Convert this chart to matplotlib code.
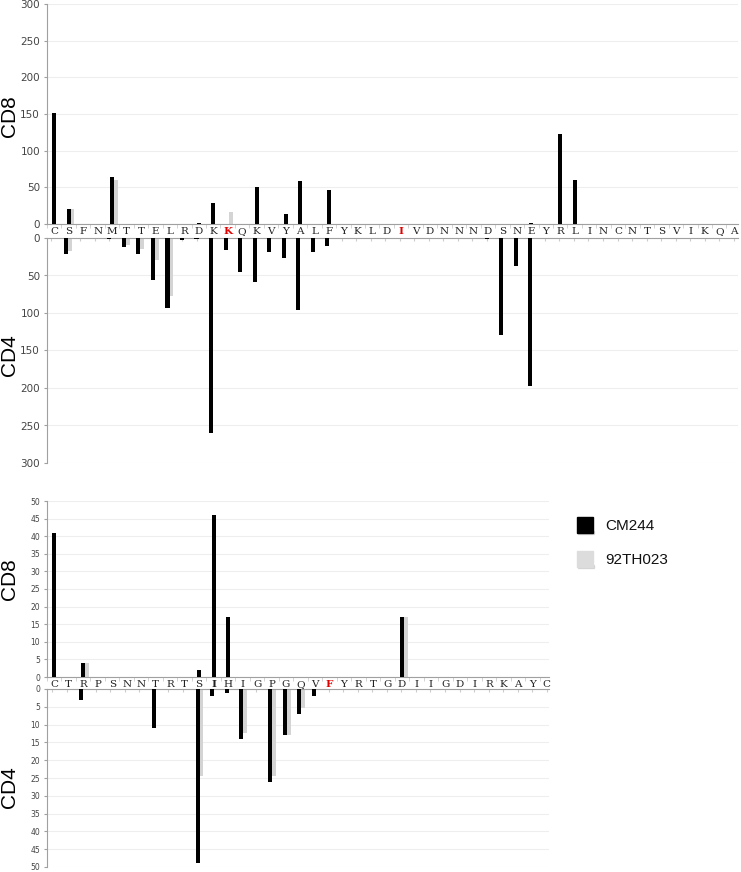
import matplotlib
matplotlib.use("Agg")
import matplotlib.pyplot as plt
from matplotlib.patches import Rectangle
import numpy as np

# ---------------- data ----------------
top_letters = list("CSFNMTTELRDKKQKVYALFYKLDIVDNNNDSNEYRLINCNTSVIKQA")
top_red = [12, 24]
top_bold = [12, 24]

top_cd8_cm244 = [152, 20, 0, 0, 64, 0, 0, 0, 0, 0, 1.5, 29, 0, 0, 50, 0, 13, 58, 0, 47,
                 0, 0, 0, 0, 0, 0, 0, 0, 0, 0, 0, 0, 0, 1.5, 0, 123, 60, 0, 0, 0,
                 0, 0, 0, 0, 0, 0, 0, 0]
top_cd8_92th = [0, 20, 0, 0, 60, 0, 0, 0, 0, 0, 0, 0, 16, 0, 0, 0, 0, 0, 0, 0,
                0, 0, 0, 0, 0, 0, 0, 0, 0, 0, 0, 0, 0, 0, 0, 0, 0, 0, 0, 0,
                0, 0, 0, 0, 0, 0, 0, 0]
top_cd4_cm244 = [0, 22, 0, 0, 1.5, 12, 21, 56, 93, 3, 1.5, 260, 16, 46, 59, 19, 27, 96, 19, 11,
                 0, 0, 0, 0, 0, 0, 0, 0, 0, 0, 1.5, 129, 38, 197, 0, 0, 0, 0, 0, 0,
                 0, 0, 0, 0, 0, 0, 0, 0]
top_cd4_92th = [0, 18, 2, 0, 0, 10, 15, 30, 77, 0, 0, 0, 0, 0, 0, 0, 0, 0, 0, 0,
                0, 0, 0, 0, 0, 0, 0, 0, 0, 0, 0, 0, 0, 0, 0, 0, 0, 0, 0, 0,
                0, 0, 0, 0, 0, 0, 0, 0]

bot_letters = list("CTRPSNNTRTSIHIGPGQVFYRTGDIIGDIRKAYC")
bot_red = [19]
bot_bold = [11, 19]

bot_cd8_cm244 = [41, 0, 4, 0, 0, 0, 0, 0, 0, 0, 2, 46, 17, 0, 0, 0, 0, 0, 0, 0,
                 0, 0, 0, 0, 17, 0, 0, 0, 0, 0, 0, 0, 0, 0, 0]
bot_cd8_92th = [0, 0, 4, 0, 0, 0, 0, 0, 0, 0, 0, 0, 0, 0, 0, 0, 0, 0, 0, 0,
                0, 0, 0, 0, 17, 0, 0, 0, 0, 0, 0, 0, 0, 0, 0]
bot_cd4_cm244 = [0, 0, 3, 0, 0, 0, 0, 11, 0, 0, 49, 2, 1, 14, 0, 26, 13, 7, 2, 0,
                 0, 0, 0, 0, 0, 0, 0, 0, 0, 0, 0, 0, 0, 0, 0]
bot_cd4_92th = [0, 0, 0, 0, 0, 0, 0, 0, 0, 0, 24.3, 0, 0, 12.4, 0, 24.3, 13, 5.3, 0, 0,
                0, 0, 0, 0, 0, 0, 0, 0, 0, 0, 0, 0, 0, 0, 0]

series_names = ["CM244", "92TH023"]
top_ticks = [0, 50, 100, 150, 200, 250, 300]
bot_ticks = [0, 5, 10, 15, 20, 25, 30, 35, 40, 45, 50]

# ---------------- style ----------------
BLACK = "#000000"
GRAY = "#d4d4d4"
AXC = "#a0a0a0"
GRID = "#eeeeee"
TICKC = "#444444"

W, H = 741, 872
fig = plt.figure(figsize=(W / 100, H / 100), dpi=100)


def fr(x0, y0, x1, y1):
    return [x0 / W, 1 - y1 / H, (x1 - x0) / W, (y1 - y0) / H]


def style_axis(ax, ticks, fs, inverted):
    for s in ["right", "top", "bottom"]:
        ax.spines[s].set_visible(False)
    ax.spines["left"].set_color(AXC)
    ax.set_yticks(ticks)
    ax.set_yticklabels([str(t) for t in ticks])
    ax.tick_params(axis="y", length=2, color=AXC, labelsize=fs, labelcolor=TICKC, pad=3)
    ax.set_ylim(ticks[-1], 0) if inverted else ax.set_ylim(0, ticks[-1])
    ax.grid(axis="y", color=GRID, lw=0.8)
    ax.set_axisbelow(True)


def draw_panel(ax_up, ax_dn, letters, red, bold, up_a, up_b, dn_a, dn_b, ticks, fs, xlim):
    n = len(letters)
    x = np.arange(n)
    for ax, a, b, inv in [(ax_up, up_a, up_b, False), (ax_dn, dn_a, dn_b, True)]:
        style_axis(ax, ticks, fs, inv)
        ax.bar(x + 0.24, b, width=0.32, color=GRAY, zorder=2)
        ax.bar(x, a, width=0.28, color=BLACK, zorder=3)
        ax.set_xlim(*xlim)
    # letters as tick labels of upper axes
    ax_up.spines["bottom"].set_visible(True)
    ax_up.spines["bottom"].set_color(AXC)
    ax_up.set_xticks(x)
    ax_up.set_xticklabels(letters, family=["DejaVu Serif", "DejaVu Sans"], fontsize=7.5)
    ax_up.tick_params(axis="x", length=0, pad=2, labelcolor="#222222")
    ax_up.set_xticks(x - 0.5, minor=True)
    ax_up.tick_params(axis="x", which="minor", length=3, color="#cccccc", direction="out")
    for i, lab in enumerate(ax_up.get_xticklabels()):
        if i in red:
            lab.set_color("#e00000")
        if i in bold:
            lab.set_fontweight("bold")
    ax_dn.spines["top"].set_visible(True)
    ax_dn.spines["top"].set_color(AXC)
    ax_dn.xaxis.set_ticks_position("top")
    ax_dn.set_xticks(x)
    ax_dn.set_xticklabels([])
    ax_dn.tick_params(axis="x", length=2.5, color="#cccccc", direction="in")


# top panel
ax1 = fig.add_axes(fr(47, 4, 738, 224))
ax2 = fig.add_axes(fr(47, 238, 738, 463))
draw_panel(ax1, ax2, top_letters, top_red, top_bold,
           top_cd8_cm244, top_cd8_92th, top_cd4_cm244, top_cd4_92th,
           top_ticks, 7.5, (-0.3, len(top_letters) - 0.7))

# bottom panel
ax3 = fig.add_axes(fr(47, 501, 549, 677))
ax4 = fig.add_axes(fr(47, 689, 549, 867))
draw_panel(ax3, ax4, bot_letters, bot_red, bot_bold,
           bot_cd8_cm244, bot_cd8_92th, bot_cd4_cm244, bot_cd4_92th,
           bot_ticks, 5.5, (-0.35, len(bot_letters) - 0.85))

# y labels
lab_kw = dict(rotation=90, ha="center", va="center", fontsize=15,
              family=["Liberation Sans", "DejaVu Sans"])
fig.text(10 / W, 1 - 116 / H, "CD8", **lab_kw)
fig.text(10 / W, 1 - 355 / H, "CD4", **lab_kw)
fig.text(10 / W, 1 - 579 / H, "CD8", **lab_kw)
fig.text(10 / W, 1 - 787 / H, "CD4", **lab_kw)

# legend
for (name, col, yc) in [(series_names[0], BLACK, 525), (series_names[1], "#dcdcdc", 559)]:
    fig.patches.append(Rectangle(((578) / W, 1 - (yc + 9) / H), 16 / W, 3 / H,
                                 transform=fig.transFigure, color="#bbbbbb", alpha=0.5))
    fig.patches.append(Rectangle((577 / W, 1 - (yc + 8) / H), 16 / W, 16 / H,
                                 transform=fig.transFigure, color=col))
    fig.text(605 / W, 1 - (yc + 1) / H, name, fontsize=11, va="center", ha="left",
             family=["Liberation Sans", "DejaVu Sans"], color="#111111")

fig.savefig("out.png", dpi=100)
